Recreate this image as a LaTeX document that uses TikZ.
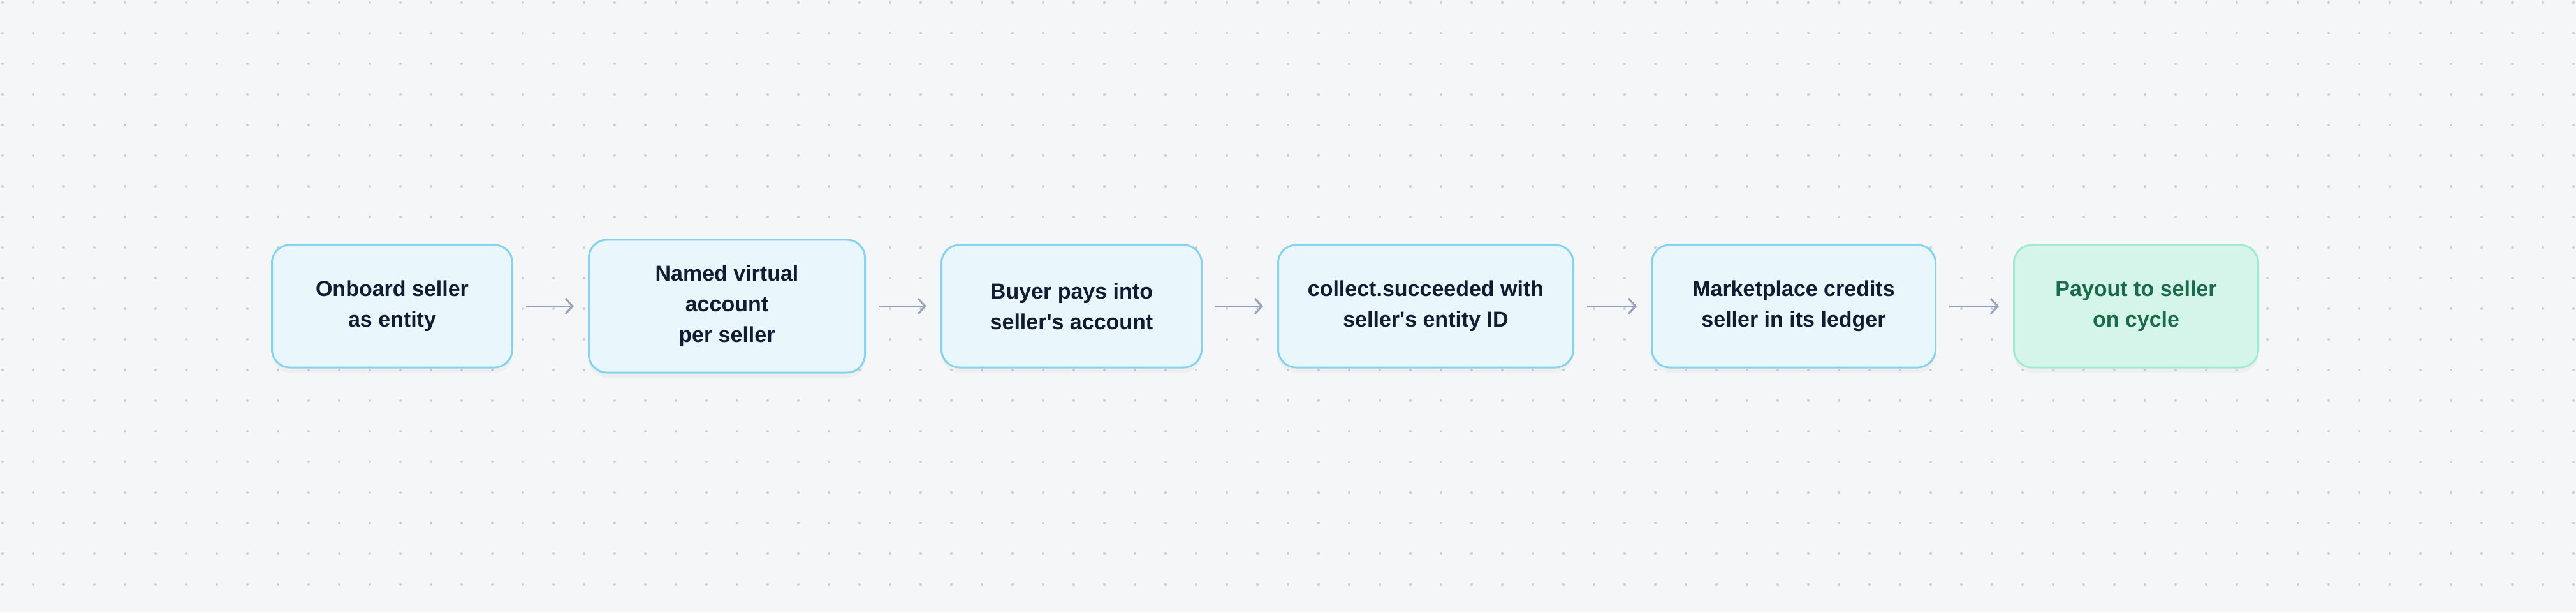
\documentclass[tikz,border=0pt]{standalone}
\usepackage{fontspec}
\setmainfont{Liberation Sans}
\usepackage{xcolor}
\definecolor{mybg}{HTML}{F5F6F8}
\definecolor{mydot}{HTML}{CBCED6}
\definecolor{myblu1}{HTML}{E9F6FC}
\definecolor{myblu2}{HTML}{86D3EF}
\definecolor{mygre1}{HTML}{D6F5EA}
\definecolor{mygre2}{HTML}{9EEBCF}
\definecolor{mygre3}{HTML}{1A6B4A}
\definecolor{mynavi}{HTML}{0F1D33}
\definecolor{myarr}{HTML}{98A2B8}
\usetikzlibrary{positioning}
\usetikzlibrary{shapes.geometric, arrows.meta, shadows}
\tikzstyle{stage} = [rectangle, rounded corners=14pt, minimum height=96pt, text centered, line width=1.5pt, draw=myblu2, fill=myblu1, text=mynavi, font=\fontsize{17}{24}\selectfont\bfseries, drop shadow={shadow xshift=0pt, shadow yshift=-4pt, opacity=0.05}]
\tikzstyle{payout} = [stage, draw=mygre2, fill=mygre1, text=mygre3]
\tikzstyle{flow} = [line width=1.5pt, -{Straight Barb[length=5.5pt,width=12pt]}, myarr, shorten <=10pt, shorten >=11pt]

\begin{document}
\begin{tikzpicture}[align=center,node distance=58.5pt]
	\fill[mybg] (0,0) rectangle (2020pt,480pt);
	\useasboundingbox (0,0) rectangle (2020pt,480pt);
	% dotted background
	\foreach \x in {2,26,...,2018}
		\foreach \y in {22,46,...,478}
			\fill[mydot] (\x pt,\y pt) circle (1pt);
	\node (onboard) [stage, minimum width=188.5pt] at (307.5pt,240pt) {Onboard seller\\as entity};
	\node (virtual) [stage, minimum width=216.5pt, minimum height=104pt, right=of onboard] {Named virtual\\account\\per seller};
	\node (buyer) [stage, minimum width=204pt, right=of virtual] {Buyer pays into\\seller\textquotesingle s account};
	\node (collect) [stage, minimum width=231.5pt, right=of buyer] {collect.succeeded with\\seller\textquotesingle s entity ID};
	\node (ledger) [stage, minimum width=222.5pt, right=60pt of collect] {Marketplace credits\\seller in its ledger};
	\node (cycle) [payout, minimum width=191.5pt, right=60pt of ledger] {Payout to seller\\on cycle};
	\draw [flow] (onboard) -- (virtual);
	\draw [flow] (virtual) -- (buyer);
	\draw [flow] (buyer) -- (collect);
	\draw [flow] (collect) -- (ledger);
	\draw [flow] (ledger) -- (cycle);
\end{tikzpicture}
\end{document}
